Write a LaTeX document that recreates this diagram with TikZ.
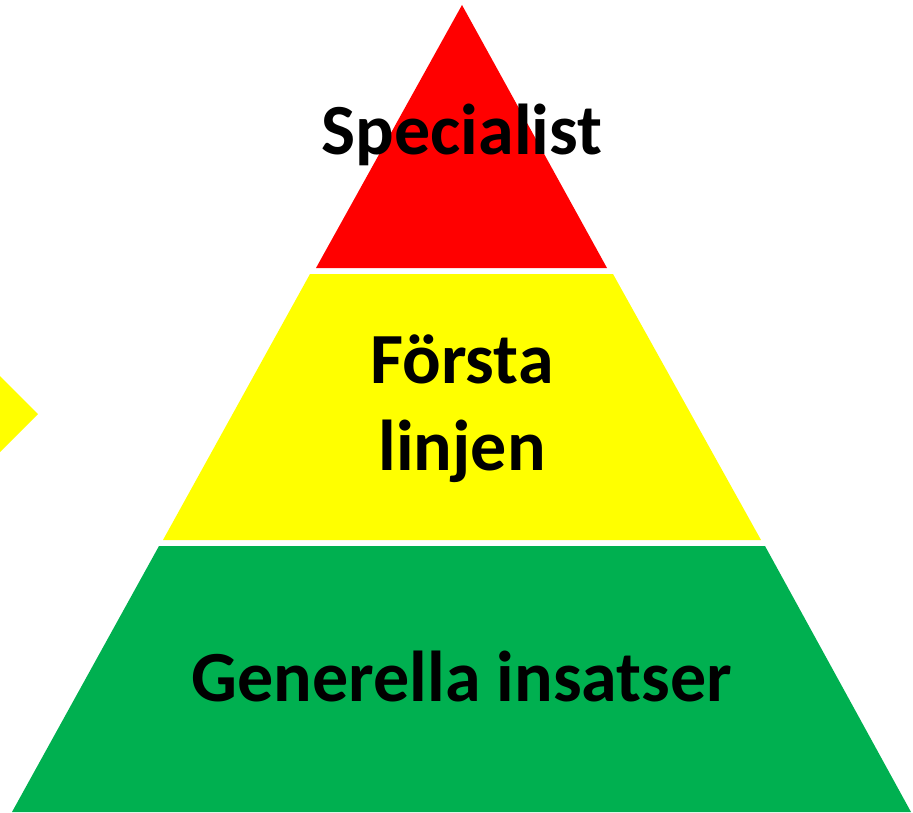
\documentclass[tikz,border=0pt]{standalone}
\usepackage{fontspec}
\setmainfont{Carlito}
\definecolor{topred}{HTML}{FF0000}
\definecolor{midyellow}{HTML}{FFFF00}
\definecolor{basegreen}{HTML}{00B050}
\tikzset{
  level/.style={font=\fontsize{72}{88}\selectfont\bfseries, anchor=base, inner sep=0pt}
}

\begin{document}
\begin{tikzpicture}[x=1pt,y=-1pt]
				\useasboundingbox (0,0) rectangle (913,813);
				\fill[midyellow] (0,376) -- (38,414) -- (0,452) -- cycle;
				\fill[topred] (462,5) -- (607,268) -- (316,268) -- cycle;
				\fill[midyellow] (310,274) -- (613,274) -- (761,540) -- (163,540) -- cycle;
				\fill[basegreen] (159,546) -- (765,546) -- (911,812) -- (12,812) -- cycle;
				\node[level] (spec) at (462,155) {Specialist};
				\node[level] (forsta) at (462,383) {Första};
				\node[level] (linjen) at (462,470) {linjen};
				\node[level] (gen) at (462,701) {Generella insatser};
			\end{tikzpicture}
\end{document}
